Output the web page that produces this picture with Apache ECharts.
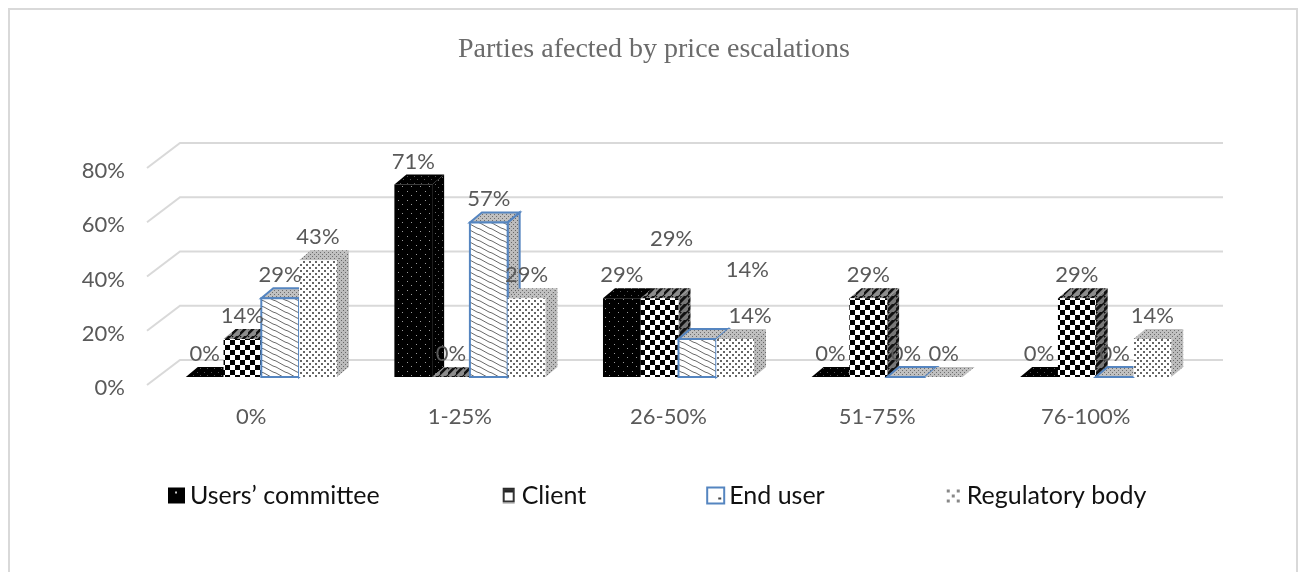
<!DOCTYPE html>
<html>
<head>
<meta charset="utf-8">
<style>
    html, body { margin: 0; padding: 0; background: #fff; }
    #main { width: 1298px; height: 572px; }
</style>
<script src="https://cdn.jsdelivr.net/npm/echarts@6/dist/echarts.min.js"></script>
</head>
<body>
<div id="main"></div>
<script>
var categories = ['0%', '1-25%', '26-50%', '51-75%', '76-100%'];
var yTicks = [0, 20, 40, 60, 80];
var usersCommittee = [0, 71, 29, 0, 0];
var client = [14, 0, 29, 29, 29];
var endUser = [29, 57, 14, 0, 0];
var regulatoryBody = [43, 29, 14, 0, 14];

// labels that were dragged away from their bar in the original
var labelNudge = {
    'Client-2': [12, -36],
    'End user-2': [50, -46],
    'Regulatory body-2': [15, 0]
};

// little canvas textures for the hatch fills
function tile(w, h, draw) {
    var c = document.createElement('canvas');
    c.width = w;
    c.height = h;
    draw(c.getContext('2d'));
    return { image: c, repeat: 'repeat' };
}
function dots(bg, fg, pts, size) {
    return function (g) {
        g.fillStyle = bg;
        g.fillRect(0, 0, 64, 64);
        g.fillStyle = fg;
        pts.forEach(function (p) { g.fillRect(p[0], p[1], size, size); });
    };
}
function stripes(bg, fg, w) {
    return function (g) {
        g.fillStyle = bg;
        g.fillRect(0, 0, 64, 64);
        g.strokeStyle = fg;
        g.lineWidth = w;
        g.beginPath();
        g.moveTo(-2, 8); g.lineTo(8, -2);
        g.moveTo(-2, 2); g.lineTo(2, -2);
        g.moveTo(6, 10); g.lineTo(10, 6);
        g.stroke();
    };
}
var speckle = tile(4, 4, dots('#c0c0c0', '#6e6e6e', [[0, 0], [2, 2]], 1));
var speckleSide = tile(4, 4, dots('#bcbcbc', '#666666', [[1, 0], [3, 2]], 1));
var fills = {
    users: {
        front: tile(9, 9, dots('#000', '#9a9a9a', [[2, 2], [6, 6]], 1)),
        top: tile(7, 7, dots('#000', '#555', [[1, 1], [4, 4]], 1)),
        side: tile(7, 7, dots('#000', '#666', [[1, 2], [4, 5]], 1))
    },
    client: {
        front: tile(10, 10, dots('#fff', '#000', [[0, 0], [5, 5]], 5)),
        top: tile(8, 8, stripes('#8c8c8c', '#111', 2.6)),
        side: tile(8, 8, stripes('#777', '#111', 3))
    },
    end: {
        front: tile(12, 6, function (g) {
            g.fillStyle = '#fff';
            g.fillRect(0, 0, 12, 6);
            g.strokeStyle = '#6a6a6a';
            g.lineWidth = 1;
            g.beginPath();
            [-6, 0, 6].forEach(function (d) {
                g.moveTo(0, 1 + d); g.lineTo(9, 6 + d); g.lineTo(12, 7 + d);
            });
            g.stroke();
        }),
        top: speckle,
        side: speckleSide
    },
    reg: {
        front: tile(6, 6, dots('#fff', '#666', [[0, 0], [3, 3]], 2)),
        top: speckle,
        side: speckleSide
    }
};

var seriesDefs = [
    { name: 'Users’ committee', values: usersCommittee, fill: fills.users, border: null },
    { name: 'Client', values: client, fill: fills.client, border: null },
    { name: 'End user', values: endUser, fill: fills.end, border: '#5585c0' },
    { name: 'Regulatory body', values: regulatoryBody, fill: fills.reg, border: null }
];

var barDx = 10, barDy = -8;       // bars stand a little behind the front edge
var depthX = 12, depthY = -10;    // depth of each box
var wallDx = 33, wallDy = -25;    // back wall offset
var labelFont = '22px Lato';

function face(points, fill, border, lineWidth) {
    return {
        type: 'polygon',
        shape: { points: points },
        style: { fill: fill, stroke: border || null, lineWidth: border ? (lineWidth || 2) : 0 }
    };
}

function renderBar(def, index) {
    return function (params, api) {
        var cat = api.value(0);
        var val = api.value(1);
        var band = api.size([1, 0])[0];
        var w = band * 0.181;
        var base = api.coord([cat, 0]);
        var top = api.coord([cat, val]);
        var x0 = base[0] + barDx + (index - 2) * w;
        var x1 = x0 + w;
        var y0 = base[1] + barDy;
        var y1 = top[1] + barDy;
        var children = [];
        if (val > 0) {
            children.push(face([[x1, y0], [x1 + depthX, y0 + depthY], [x1 + depthX, y1 + depthY], [x1, y1]], def.fill.side, def.border));
        }
        children.push(face([[x0, y1], [x1, y1], [x1 + depthX, y1 + depthY], [x0 + depthX, y1 + depthY]], def.fill.top, def.border));
        if (val > 0) {
            children.push(face([[x0, y0], [x1, y0], [x1, y1], [x0, y1]], def.fill.front, def.border));
        }
        var nudge = labelNudge[def.name + '-' + cat] || [0, 0];
        children.push({
            type: 'text',
            z2: 100,
            style: {
                text: val + '%',
                x: (x0 + x1) / 2 + nudge[0],
                y: y1 - 23 + nudge[1],
                align: 'center',
                verticalAlign: 'middle',
                fill: '#595959',
                font: labelFont
            }
        });
        return { type: 'group', children: children };
    };
}

function renderGridLine(params, api) {
    var band = api.size([1, 0])[0];
    var p = api.coord([0, api.value(1)]);
    var left = p[0] - band / 2;
    return {
        type: 'polyline',
        shape: {
            points: [
                [left, p[1]],
                [left + wallDx, p[1] + wallDy],
                [left + band * categories.length + wallDx, p[1] + wallDy]
            ]
        },
        style: { fill: null, stroke: '#d9d9d9', lineWidth: 2 }
    };
}

var legendIcons = [
    tile(17, 16, function (g) {
        g.fillStyle = '#000'; g.fillRect(0, 0, 17, 16);
        g.fillStyle = '#ccc'; g.fillRect(7, 4, 2, 2);
    }),
    tile(17, 16, function (g) {
        g.fillStyle = '#fff'; g.fillRect(0, 0, 17, 16);
        g.fillStyle = '#222'; g.fillRect(3, 0, 12, 5);
        g.strokeStyle = '#333'; g.lineWidth = 2; g.strokeRect(4, 2, 10, 12);
    }),
    tile(17, 16, function (g) {
        g.fillStyle = '#fff'; g.fillRect(0, 0, 17, 16);
        g.fillStyle = '#444'; g.fillRect(11, 10, 3, 2);
    }),
    tile(17, 16, dots('#fff', '#888', [[2, 2], [12, 2], [7, 7], [2, 12], [12, 12]], 3))
];

var series = [{
    type: 'custom',
    z: 1,
    silent: true,
    data: yTicks.map(function (v) { return [0, v]; }),
    encode: { x: 0, y: 1 },
    renderItem: renderGridLine
}];
seriesDefs.forEach(function (def, i) {
    series.push({
        name: def.name,
        type: 'custom',
        z: 2,
        data: def.values.map(function (v, c) { return [c, v]; }),
        encode: { x: 0, y: 1 },
        renderItem: renderBar(def, i)
    });
});

var chartDom = document.getElementById('main');
var myChart = echarts.init(chartDom, null, { renderer: 'canvas' });
var option = {
    animation: false,
    backgroundColor: '#fff',
    title: {
        text: 'Parties afected by price escalations',
        left: 453,
        top: 31,
        textStyle: {
            fontFamily: 'Liberation Serif',
            fontWeight: 'normal',
            fontSize: 28,
            color: '#6b6b6b'
        }
    },
    graphic: [{
        type: 'polyline',
        silent: true,
        shape: { points: [[9, 572], [9, 9], [1297, 9], [1297, 572]] },
        style: { fill: null, stroke: '#d9d9d9', lineWidth: 2 }
    }],
    legend: {
        left: 163,
        top: 478,
        itemGap: 120,
        itemWidth: 17,
        itemHeight: 16,
        selectedMode: false,
        textStyle: { fontFamily: 'Lato', fontSize: 25, color: '#111' },
        data: seriesDefs.map(function (def, i) {
            return {
                name: def.name,
                icon: 'rect',
                itemStyle: {
                    color: legendIcons[i],
                    borderColor: def.border || 'transparent',
                    borderWidth: def.border ? 2 : 0
                }
            };
        })
    },
    grid: { left: 147, top: 168, width: 1043, height: 217 },
    xAxis: {
        type: 'category',
        data: categories,
        axisLine: { show: false },
        axisTick: { show: false },
        axisLabel: { margin: 21, color: '#595959', fontFamily: 'Lato', fontSize: 22 }
    },
    yAxis: {
        type: 'value',
        min: 0,
        max: 80,
        interval: 20,
        axisLine: { show: false },
        axisTick: { show: false },
        splitLine: { show: false },
        axisLabel: { margin: 22, verticalAlign: 'top', lineHeight: 6, formatter: '{value}%', color: '#595959', fontFamily: 'Lato', fontSize: 22 }
    },
    series: series
};

option && myChart.setOption(option);
</script>
</body>
</html>
